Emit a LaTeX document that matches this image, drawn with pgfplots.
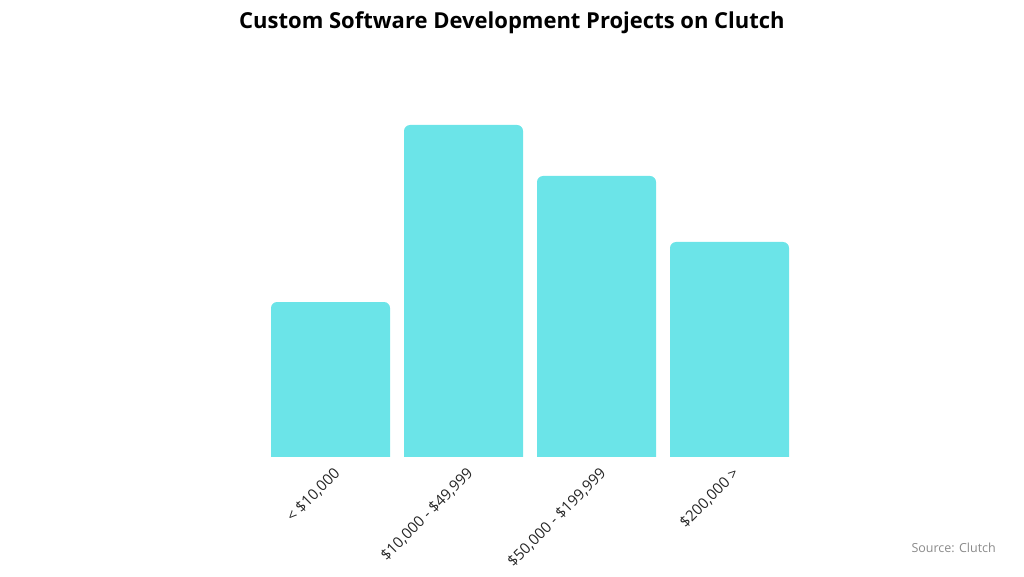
\documentclass[border=0pt]{standalone}
\usepackage{pgfplots}
\pgfplotsset{compat=1.18}
\usepackage{fontspec}
\setmainfont{Open Sans}
\definecolor{barcyan}{HTML}{6BE4E8}
\definecolor{srcgray}{HTML}{8A8A8A}
\begin{document}
\begin{tikzpicture}
  \path[use as bounding box] (0,0) rectangle (1024pt,576pt);
  \begin{axis}[
      at={(264pt,109pt)}, anchor=south west,
      scale only axis,
      width=532pt, height=370pt,
      xmin=-0.5, xmax=3.5,
      ymin=0, ymax=370,
      clip=false,
      axis on top,
      y filter/.expression={y+10},
      ybar, bar width=119pt,
      axis line style={draw=none},
      major tick length=0pt,
      ytick=\empty,
      xtick=data,
      xticklabels={{< \$10,000},{\$10,000 - \$49,999},{\$50,000 - \$199,999},{\$200,000 >}},
      xticklabel style={rotate=45, anchor=north east, font=\fontsize{15}{17}\selectfont, text=black!85, inner sep=2pt, xshift=4pt, yshift=1pt},
      /pgf/number format/assume math mode=true,
    ]
    \addplot[fill=barcyan, draw=none, rounded corners=6pt] coordinates {
      (0,155) (1,332) (2,281) (3,215)
    };
    % hide the rounded lower corners below the base line
    \fill[white] (axis cs:-0.5,-3) rectangle (axis cs:3.5,10);
  \end{axis}
  \node[font=\bfseries\fontsize{22}{26}\selectfont] at (512pt,553pt) {Custom Software Development Projects on Clutch};
  \node[anchor=east, font=\fontsize{12.5}{14}\selectfont, text=srcgray, inner sep=0pt] at (996pt,28pt) {Source: Clutch};
\end{tikzpicture}
\end{document}
